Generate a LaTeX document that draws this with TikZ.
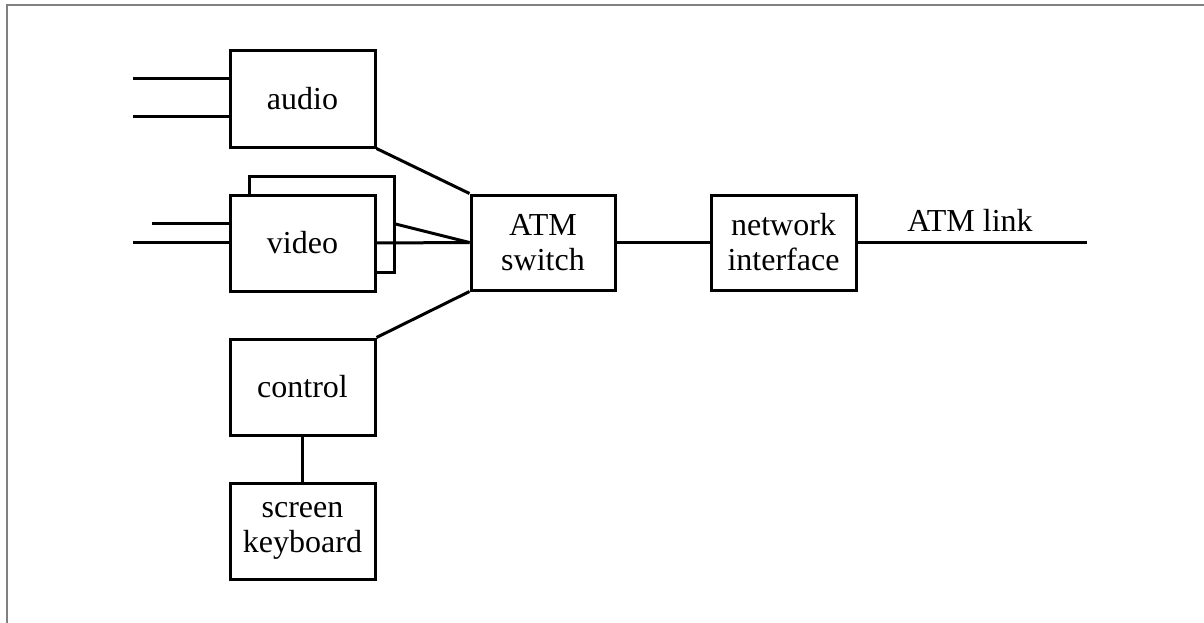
\documentclass[tikz,border=0pt]{standalone}
\usepackage{fontspec}
\setmainfont{Liberation Serif}
\begin{document}
\begin{tikzpicture}[x=1pt,y=-1pt,
  blk/.style={draw,line width=3pt,fill=white,minimum width=145pt,minimum height=96pt,
    inner sep=0pt,align=center,font=\fontsize{32}{35}\selectfont},
  wire/.style={line width=3pt},
  frame/.style={draw=black!50,line width=2pt}]
\useasboundingbox (0,0) rectangle (1204,623);
\draw[frame] (6.5,640) -- (6.5,5) -- (1220,5);
% nodes
\node[blk] (audio) at (302.5,99) {audio};
\node[blk] (vback) at (321.5,224) {};
\node[blk] (video) at (302.5,243) {video};
\node[blk,minimum width=144pt,minimum height=95pt] (atm) at (543,242.5) {ATM\\switch};
\node[blk,minimum height=95pt] (net) at (783.5,242.5) {network\\interface};
\node[blk] (control) at (302.5,387) {control};
\node[blk] (screen) at (302.5,531) {screen\\keyboard};
% input wires
\coordinate (a1) at (133,79);
\coordinate (a2) at (133,117);
\coordinate (v1) at (152,223);
\coordinate (v2) at (133,242);
\draw[wire] (a1) -- (a1 -| audio.west);
\draw[wire] (a2) -- (a2 -| audio.west);
\draw[wire] (v1) -- (v1 -| video.west);
\draw[wire] (v2) -- (v2 -| video.west);
% connectors
\draw[wire] (audio.south east) -- (atm.north west);
\draw[wire] (vback.east) -- (atm.west);
\draw[wire] (video.east) -- (atm.west);
\draw[wire] (control.north east) -- (atm.south west);
\draw[wire] (control.south) -- (screen.north);
\draw[wire] (atm.east) -- (net.west);
\coordinate (linkend) at (1087,242.5);
\draw[wire] (net.east) -- (linkend);
\node[font=\fontsize{32}{35}\selectfont,anchor=base,inner sep=0pt] (linklbl) at (970,231) {ATM link};
\end{tikzpicture}
\end{document}
